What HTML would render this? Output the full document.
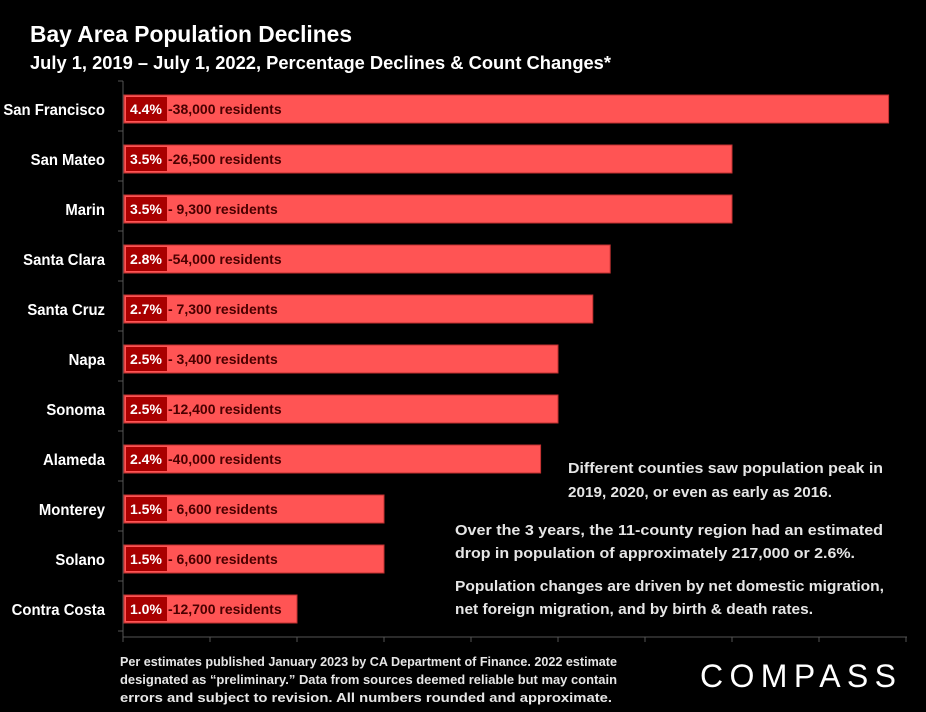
<!DOCTYPE html>
<html><head><meta charset="utf-8"><style>
html,body{margin:0;padding:0;background:#000;}
svg{display:block;font-family:"Liberation Sans",sans-serif;}
</style></head><body>
<svg id="chart" width="926" height="712" viewBox="0 0 926 712">
<rect x="0" y="0" width="926" height="712" fill="#000"/>
<text x="30" y="42" font-size="23" font-weight="bold" fill="#fff" textLength="322" lengthAdjust="spacingAndGlyphs">Bay Area Population Declines</text>
<text x="30" y="69" font-size="18" font-weight="bold" fill="#fff" textLength="581" lengthAdjust="spacingAndGlyphs">July 1, 2019 – July 1, 2022, Percentage Declines &amp; Count Changes*</text>
<g id="axes"></g>
<g id="bars"></g>
<g font-size="14.5" font-weight="bold" fill="#e6e6e6">
<text x="568" y="473" textLength="315" lengthAdjust="spacingAndGlyphs">Different counties saw population peak in</text>
<text x="568" y="497" textLength="264" lengthAdjust="spacingAndGlyphs">2019, 2020, or even as early as 2016.</text>
<text x="455" y="535" textLength="428" lengthAdjust="spacingAndGlyphs">Over the 3 years, the 11-county region had an estimated</text>
<text x="455" y="558" textLength="400" lengthAdjust="spacingAndGlyphs">drop in population of approximately 217,000 or 2.6%.</text>
<text x="455" y="591" textLength="429" lengthAdjust="spacingAndGlyphs">Population changes are driven by net domestic migration,</text>
<text x="455" y="614" textLength="358" lengthAdjust="spacingAndGlyphs">net foreign migration, and by birth &amp; death rates.</text>
</g>
<g font-size="12.5" font-weight="bold" fill="#e6e6e6">
<text x="120" y="666" textLength="497" lengthAdjust="spacingAndGlyphs">Per estimates published January 2023 by CA Department of Finance. 2022 estimate</text>
<text x="120" y="684" textLength="497" lengthAdjust="spacingAndGlyphs">designated as  “preliminary.” Data from sources deemed reliable but may contain</text>
<text x="120" y="702" textLength="492" lengthAdjust="spacingAndGlyphs">errors and subject to revision. All numbers rounded and approximate.</text>
</g>
<text x="700" y="687" font-size="32" fill="#fff" textLength="196" lengthAdjust="spacing">COMPASS</text>
</svg>
<script>
const categories = ["San Francisco","San Mateo","Marin","Santa Clara","Santa Cruz","Napa","Sonoma","Alameda","Monterey","Solano","Contra Costa"];
const pctValues = [4.4,3.5,3.5,2.8,2.7,2.5,2.5,2.4,1.5,1.5,1.0];
const countLabels = ["-38,000 residents","-26,500 residents","- 9,300 residents","-54,000 residents","- 7,300 residents","- 3,400 residents","-12,400 residents","-40,000 residents","- 6,600 residents","- 6,600 residents","-12,700 residents"];
const xTicks = [0,0.5,1,1.5,2,2.5,3,3.5,4,4.5];

const NS = "http://www.w3.org/2000/svg";
const x0 = 123, pxPerUnit = 174, rowTop = 84, rowH = 50, barH = 28;
const xs = v => x0 + v * pxPerUnit;
const yc = i => rowTop + rowH * i + rowH / 2;
function mk(tag, attrs, parent) {
  const e = document.createElementNS(NS, tag);
  for (const k in attrs) e.setAttribute(k, attrs[k]);
  parent.appendChild(e);
  return e;
}
const axes = document.getElementById("axes");
const barsG = document.getElementById("bars");
const axisBottom = rowTop + rowH * categories.length + 3;
const yAxis = mk("line", {x1: x0, y1: rowTop - 3, x2: x0, y2: axisBottom, stroke: "#555", "stroke-width": 1}, axes);


const xAxis = mk("line", {x1: x0, y1: axisBottom, x2: xs(xTicks[xTicks.length - 1]) + 1, y2: axisBottom, stroke: "#555", "stroke-width": 1}, axes);


xTicks.forEach(t => {
  const tk = mk("line", {x1: xs(t), y1: axisBottom, x2: xs(t), y2: axisBottom + 5, stroke: "#555"}, axes);
  
  
});
for (let i = 0; i <= categories.length; i++) {
  const tk = mk("line", {x1: x0 - 5, y1: rowTop + rowH * i - 3, x2: x0, y2: rowTop + rowH * i - 3, stroke: "#555"}, axes);
  
  
}
categories.forEach((c, i) => {
  const cy = yc(i);
  const lbl = mk("text", {x: 0, y: 0, transform: "translate(105," + (cy + 6) + ") scale(0.93,1)", "text-anchor": "end", "font-size": 16, "font-weight": "bold", fill: "#fff"}, barsG);
  lbl.textContent = c;
  
  
  const bar = mk("rect", {x: x0 + 1, y: cy - barH / 2, width: xs(pctValues[i]) - x0 - 1, height: barH, fill: "#ff5454", stroke: "#c03030", "stroke-width": 1}, barsG);
  
  
  const box = mk("rect", {x: x0 + 3, y: cy - 12, width: 41, height: 24, fill: "#a80000"}, barsG);
  
  
  const pt = mk("text", {x: x0 + 7, y: cy + 5, "font-size": 14, "font-weight": "bold", fill: "#fff"}, barsG);
  pt.textContent = pctValues[i].toFixed(1) + "%";
  
  
  const ct = mk("text", {x: x0 + 45, y: cy + 5, "font-size": 14, "font-weight": "bold", fill: "#4a0000"}, barsG);
  ct.textContent = countLabels[i];
  
  
});
</script>
</body></html>
